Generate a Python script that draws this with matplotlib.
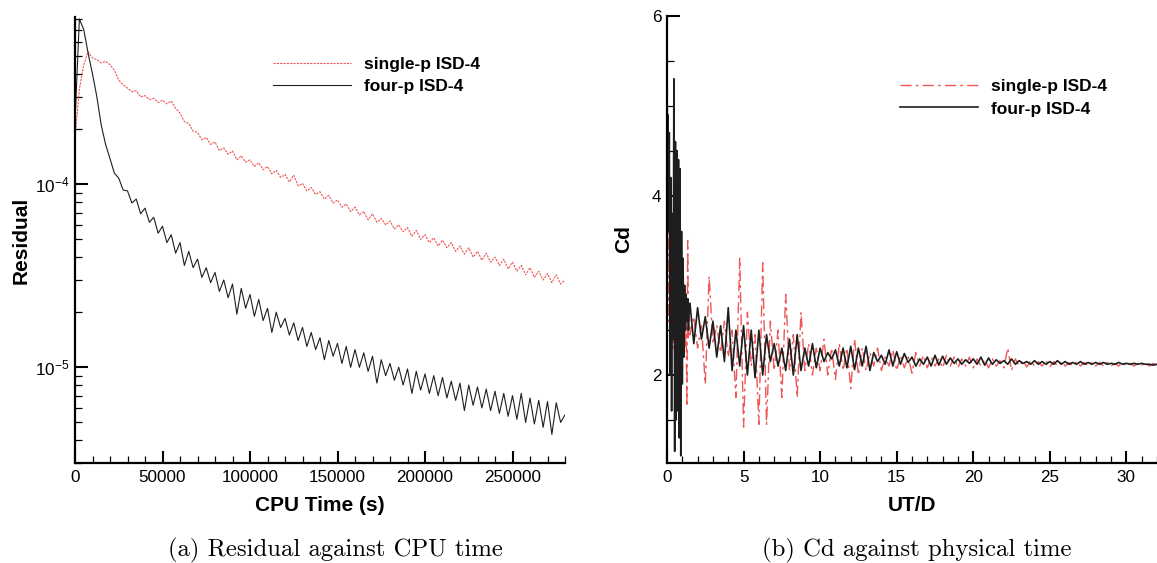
import numpy as np
import matplotlib
matplotlib.use('Agg')
import matplotlib.pyplot as plt
from matplotlib.ticker import MultipleLocator, LogLocator, NullFormatter

plt.rcParams['font.family'] = ['Liberation Sans', 'DejaVu Sans']
plt.rcParams['mathtext.fontset'] = 'custom'
plt.rcParams['mathtext.rm'] = 'Liberation Sans'

# (a) residual history, values in units of 1e-5, sampled every 2500 s from 0 to 280000 s
single_p_resid = [
    18, 33, 45, 53, 49, 48, 46, 47, 45, 42,
    37, 35, 33.5, 32, 32.5, 30, 30.5, 29, 29.5, 28,
    28.8, 27.5, 28.5, 26, 24.5, 22, 21.5, 19.5, 19.2, 17.5,
    18, 16.5, 17, 15.3, 15.8, 14.6, 15.2, 13.6, 14.3, 13.2,
    13.6, 12.5, 13.1, 12.0, 12.5, 11.4, 11.9, 10.9, 11.3, 10.3,
    11.2, 9.8, 10.1, 9.2, 9.6, 8.8, 9.1, 8.3, 8.7, 7.9,
    8.2, 7.5, 7.8, 7.1, 7.5, 6.8, 7.1, 6.4, 6.9, 6.2,
    6.5, 6.0, 6.3, 5.7, 6.0, 5.5, 5.8, 5.2, 5.6, 5.0,
    5.3, 4.8, 5.1, 4.6, 4.95, 4.5, 4.8, 4.3, 4.6, 4.15,
    4.5, 4.0, 4.3, 3.85, 4.2, 3.75, 4.0, 3.6, 3.9, 3.45,
    3.75, 3.35, 3.6, 3.2, 3.5, 3.1, 3.35, 3.0, 3.25, 2.9,
    3.2, 2.85, 3.0,
]
four_p_resid = [
    22, 80, 70, 52, 40, 30, 21, 16.5, 13.8, 11.5,
    10.8, 9.3, 9.2, 7.9, 8.3, 6.9, 7.4, 6.2, 6.6, 5.4,
    5.9, 4.8, 5.3, 4.2, 4.8, 3.6, 4.3, 3.5, 3.9, 3.1,
    3.5, 2.9, 3.3, 2.6, 3.0, 2.4, 2.85, 1.95, 2.7, 2.1,
    2.5, 1.9, 2.35, 1.8, 2.1, 1.55, 2.0, 1.65, 1.85, 1.5,
    1.75, 1.4, 1.65, 1.3, 1.55, 1.25, 1.45, 1.1, 1.4, 1.15,
    1.35, 1.05, 1.3, 1.0, 1.25, 1.0, 1.2, 0.95, 1.15, 0.82,
    1.1, 0.9, 1.05, 0.85, 1.0, 0.8, 0.98, 0.72, 0.95, 0.75,
    0.92, 0.72, 0.9, 0.7, 0.88, 0.68, 0.84, 0.66, 0.82, 0.58,
    0.8, 0.62, 0.78, 0.6, 0.76, 0.58, 0.74, 0.56, 0.72, 0.54,
    0.7, 0.52, 0.72, 0.5, 0.68, 0.49, 0.66, 0.47, 0.65, 0.43,
    0.64, 0.5, 0.55,
]
cpu_end = 280000

# (b) drag coefficient, early part every 0.05 (0..1.45), late part every 0.25 (1.5..34.25)
four_p_cd_early = [
    3.0, 4.9, 3.6, 4.7, 2.0, 4.2, 1.6, 3.8, 2.4, 5.3,
    1.15, 4.6, 1.5, 4.5, 1.6, 4.4, 1.3, 4.3, 1.1, 3.6,
    1.9, 3.3, 2.2, 3.0, 2.5, 2.9, 2.6, 2.85, 2.5, 2.75,
]
single_p_cd_early = [
    6.0, 4.2, 2.6, 3.5, 2.4, 3.2, 2.5, 3.0, 2.3, 2.9,
    2.2, 2.8, 2.0, 2.7, 2.2, 3.0, 2.0, 2.6, 2.3, 2.9,
    2.2, 2.6, 2.4, 2.7, 2.3, 2.6, 1.65, 3.5, 2.4, 2.7,
]
four_p_cd_late = [
    2.80, 2.35, 2.75, 2.40, 2.65, 2.30, 2.60, 2.20,
    2.55, 2.15, 2.75, 2.05, 2.50, 2.10, 2.55, 2.00,
    2.50, 1.97, 2.50, 2.00, 2.45, 2.15, 2.35, 2.10,
    2.30, 2.05, 2.40, 2.00, 2.45, 2.05, 2.30, 2.10,
    2.35, 2.08, 2.30, 2.15, 2.25, 2.18, 2.28, 2.10,
    2.30, 2.08, 2.32, 2.06, 2.30, 2.10, 2.32, 2.05,
    2.25, 2.15, 2.22, 2.12, 2.28, 2.10, 2.26, 2.12,
    2.24, 2.14, 2.20, 2.10, 2.18, 2.12, 2.20, 2.10,
    2.22, 2.11, 2.21, 2.12, 2.19, 2.13, 2.18, 2.12,
    2.17, 2.13, 2.18, 2.12, 2.20, 2.11, 2.19, 2.12,
    2.17, 2.13, 2.16, 2.12, 2.18, 2.12, 2.16, 2.13,
    2.15, 2.12, 2.16, 2.12, 2.15, 2.12, 2.15, 2.12,
    2.16, 2.12, 2.15, 2.12, 2.14, 2.12, 2.15, 2.12,
    2.14, 2.12, 2.14, 2.12, 2.14, 2.12, 2.13, 2.12,
    2.14, 2.12, 2.13, 2.12, 2.13, 2.12, 2.13, 2.12,
    2.12, 2.11, 2.12, 2.11, 2.12, 2.11, 2.12, 2.11,
    2.12, 2.11, 2.12, 2.11,
]
single_p_cd_late = [
    2.45, 2.65, 2.30, 2.55, 1.90, 3.10, 2.35, 2.55,
    2.25, 2.60, 2.20, 2.50, 1.75, 3.30, 1.42, 2.70,
    2.10, 2.45, 1.45, 3.25, 1.45, 2.60, 2.05, 2.50,
    1.75, 2.90, 2.05, 2.45, 1.75, 2.70, 2.05, 2.35,
    2.00, 2.30, 2.05, 2.40, 2.00, 2.30, 1.95, 2.35,
    2.05, 2.30, 1.85, 2.40, 2.00, 2.30, 2.05, 2.25,
    2.10, 2.30, 2.05, 2.20, 2.10, 2.28, 2.05, 2.22,
    2.08, 2.20, 2.02, 2.25, 2.10, 2.22, 2.08, 2.20,
    2.10, 2.18, 2.08, 2.22, 2.10, 2.20, 2.08, 2.18,
    2.10, 2.20, 2.08, 2.18, 2.10, 2.17, 2.08, 2.18,
    2.10, 2.16, 2.08, 2.30, 2.05, 2.18, 2.10, 2.16,
    2.09, 2.16, 2.10, 2.15, 2.10, 2.16, 2.09, 2.15,
    2.10, 2.15, 2.10, 2.14, 2.10, 2.15, 2.10, 2.14,
    2.10, 2.14, 2.10, 2.14, 2.10, 2.14, 2.10, 2.13,
    2.10, 2.14, 2.10, 2.13, 2.10, 2.13, 2.11, 2.14,
    2.10, 2.13, 2.11, 2.13, 2.10, 2.13, 2.11, 2.12,
    2.11, 2.12, 2.11, 2.12,
]

labels = ['single-p ISD-4', 'four-p ISD-4']
red = '#ee5656'
dark = '#1e1e1e'


def style_axes(ax):
    for side in ['top', 'right']:
        ax.spines[side].set_visible(False)
    for side in ['left', 'bottom']:
        ax.spines[side].set_linewidth(1.6)
    ax.tick_params(which='major', direction='in', length=9, width=1.5, labelsize=12.3)
    ax.tick_params(axis='x', which='major', pad=5)
    ax.tick_params(axis='y', which='major', pad=4)
    ax.tick_params(which='minor', direction='in', length=5, width=0.9)


def add_legend(ax, x, y):
    ax.legend(loc='upper left', bbox_to_anchor=(x, y), frameon=False, borderpad=0,
              borderaxespad=0, handlelength=4.5, handletextpad=0.75, labelspacing=0.4,
              prop={'size': 12.5, 'weight': 'bold'})


fig = plt.figure(figsize=(11.57, 5.63), dpi=100)

# ---- (a) residual against CPU time
ax1 = fig.add_axes([75 / 1157, 100 / 563, 490 / 1157, 446 / 563])
cpu = np.linspace(0, cpu_end, len(single_p_resid))
ax1.plot(cpu, np.array(single_p_resid) * 1e-5, color=red, lw=0.8, ls=(0, (2, 1)), label=labels[0])
ax1.plot(cpu, np.array(four_p_resid) * 1e-5, color=dark, lw=0.8, label=labels[1])
ax1.set_yscale('log')
ax1.set_xlim(0, cpu_end)
ax1.set_ylim(3e-6, 8.2e-4)
ax1.xaxis.set_major_locator(MultipleLocator(50000))
ax1.xaxis.set_minor_locator(MultipleLocator(10000))
ax1.yaxis.set_minor_locator(LogLocator(subs=np.arange(2, 10)))
ax1.yaxis.set_minor_formatter(NullFormatter())
style_axes(ax1)
ax1.set_xlabel('CPU Time (s)', fontsize=15, fontweight='bold')
ax1.set_ylabel('Residual', fontsize=15, fontweight='bold')
ax1.xaxis.set_label_coords(0.5, -0.074)
ax1.yaxis.set_label_coords(-0.091, 0.5)
add_legend(ax1, 0.404, 0.9105)

# ---- (b) Cd against physical time
ax2 = fig.add_axes([667 / 1157, 100 / 563, 490 / 1157, 447 / 563])
t_early = np.linspace(0, 1.45, len(four_p_cd_early))
t_late = np.linspace(1.5, 34.25, len(four_p_cd_late))
t = np.concatenate([t_early, t_late])
ax2.plot(t, single_p_cd_early + single_p_cd_late, color=red, lw=1.0, ls=(0, (8, 3, 2, 3)), label=labels[0])
ax2.plot(t, four_p_cd_early + four_p_cd_late, color=dark, lw=1.2, label=labels[1])
ax2.set_xlim(0, 32)
ax2.set_ylim(1.02, 6)
ax2.xaxis.set_major_locator(MultipleLocator(5))
ax2.xaxis.set_minor_locator(MultipleLocator(1))
ax2.yaxis.set_major_locator(MultipleLocator(2))
ax2.yaxis.set_minor_locator(MultipleLocator(0.5))
style_axes(ax2)
ax2.set_xlabel('UT/D', fontsize=15, fontweight='bold')
ax2.set_ylabel('Cd', fontsize=15, fontweight='bold')
ax2.xaxis.set_label_coords(0.5, -0.074)
ax2.yaxis.set_label_coords(-0.069, 0.5)
add_legend(ax2, 0.4755, 0.8585)

# captions
fig.text(335 / 1157, 1 - 550 / 563, '(a) Residual against CPU time', family='cmr10',
         fontsize=17.8, ha='center', va='center')
fig.text(917 / 1157, 1 - 550 / 563, '(b) Cd against physical time', family='cmr10',
         fontsize=17.8, ha='center', va='center')

plt.savefig('out.png', dpi=100)
plt.close()
